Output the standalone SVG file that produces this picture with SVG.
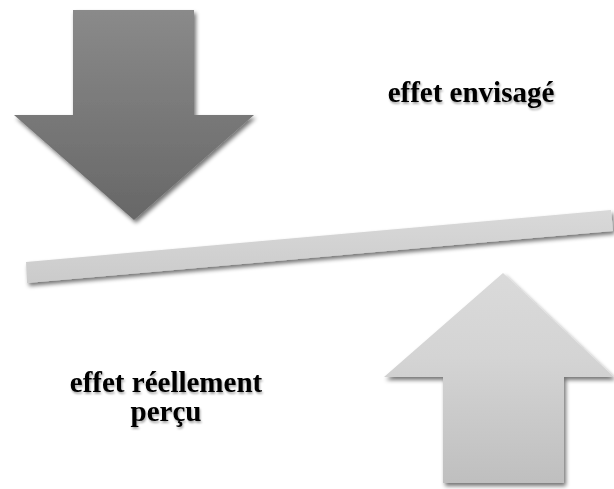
<svg xmlns="http://www.w3.org/2000/svg" width="614" height="489" viewBox="0 0 614 489">
<defs>
<linearGradient id="gDown" x1="0" y1="0" x2="0" y2="1">
<stop offset="0" stop-color="#8a8a8a"/>
<stop offset="1" stop-color="#676767"/>
</linearGradient>
<linearGradient id="gUp" x1="0" y1="0" x2="0" y2="1">
<stop offset="0" stop-color="#dadada"/>
<stop offset="0.4" stop-color="#d4d4d4"/>
<stop offset="1" stop-color="#bfbfbf"/>
</linearGradient>
<linearGradient id="gBar" x1="0" y1="0" x2="0" y2="1">
<stop offset="0" stop-color="#d9d9d9"/>
<stop offset="1" stop-color="#cbcbcb"/>
</linearGradient>
<filter id="shadow" x="-10%" y="-10%" width="125%" height="125%">
<feGaussianBlur in="SourceAlpha" stdDeviation="2.2"/>
<feOffset dx="1.5" dy="2.5" result="b"/>
<feComponentTransfer><feFuncA type="linear" slope="0.55"/></feComponentTransfer>
<feMerge><feMergeNode/><feMergeNode in="SourceGraphic"/></feMerge>
</filter>
<filter id="tshadow" x="-10%" y="-20%" width="120%" height="150%">
<feGaussianBlur in="SourceAlpha" stdDeviation="1"/>
<feOffset dx="1" dy="1.5" result="b"/>
<feComponentTransfer><feFuncA type="linear" slope="0.35"/></feComponentTransfer>
<feMerge><feMergeNode/><feMergeNode in="SourceGraphic"/></feMerge>
</filter>
</defs>
<style>
.lbl{font-family:"Liberation Serif","Times New Roman",serif;font-weight:bold;font-size:29px;fill:#000;text-anchor:middle}
</style>
<rect width="614" height="489" fill="#ffffff"/>
<g id="arrow-down" filter="url(#shadow)">
<polygon points="73,10 194,10 194,115 254,115 134,220 14,115 73,115" fill="url(#gDown)"/>
</g>
<g id="bar" filter="url(#shadow)">
<polygon points="26,262 611,210 613,231 27,283" fill="url(#gBar)"/>
</g>
<g id="arrow-up" filter="url(#shadow)">
<polygon points="503,273 614,377 564,377 564,483 443,483 443,377 384,377" fill="url(#gUp)"/>
</g>
<g id="label-envisage" filter="url(#tshadow)">
<text class="lbl" x="471" y="102">effet envisagé</text>
</g>
<g id="label-percu" filter="url(#tshadow)">
<text class="lbl" x="166" y="392">effet réellement</text>
<text class="lbl" x="166" y="421">perçu</text>
</g>
</svg>
